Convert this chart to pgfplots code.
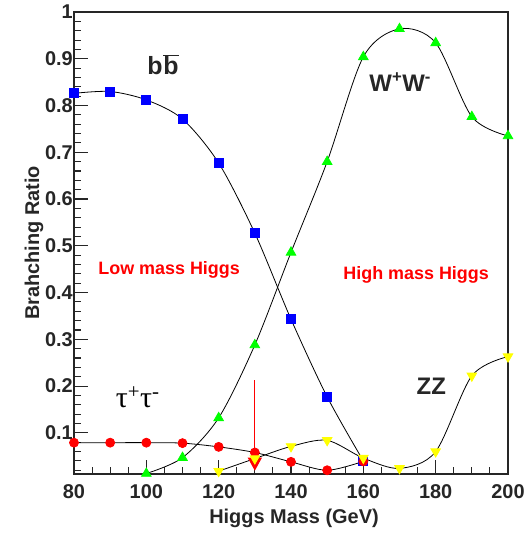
\documentclass[border=0pt]{standalone}
\usepackage{fontspec}
\setmainfont{Liberation Sans}
\newfontfamily\grserif{Liberation Serif}
\usepackage{pgfplots}
\pgfplotsset{compat=1.18}
\usetikzlibrary{arrows.meta}
\definecolor{rblue}{RGB}{0,0,255}
\definecolor{rgreen}{RGB}{0,255,0}
\definecolor{ryellow}{RGB}{255,255,0}
\definecolor{rred}{RGB}{255,0,0}
\begin{document}
\begin{tikzpicture}
\useasboundingbox (-74bp,-60bp) rectangle (457bp,474bp);
\begin{axis}[
  at={(0,0)}, anchor=south west,
  scale only axis, width=434bp, height=462bp,
  xmin=80, xmax=200, ymin=0.012, ymax=1,
  clip=false,
  axis line style={line width=1.2bp, black!85},
  every tick/.style={line width=1.1bp, black!85},
  tick align=inside,
  xtick pos=bottom, ytick pos=left,
  xtick={80,100,...,200},
  minor xtick={80,85,...,200},
  ytick={0.1,0.2,0.3,0.4,0.5,0.6,0.7,0.8,0.9,1},
  minor ytick={0.02,0.04,0.06,0.08,0.12,0.14,0.16,0.18,0.22,0.24,0.26,0.28,0.32,0.34,0.36,0.38,0.42,0.44,0.46,0.48,0.52,0.54,0.56,0.58,0.62,0.64,0.66,0.68,0.72,0.74,0.76,0.78,0.82,0.84,0.86,0.88,0.92,0.94,0.96,0.98},
  major tick length=14bp, minor tick length=7bp,
  /pgf/number format/assume math mode=true,
  ticklabel style={font=\fontsize{20}{23}\selectfont\bfseries, text=black!85},
  yticklabel style={inner xsep=1bp},
  xticklabel style={yshift=-7bp},
  xlabel={Higgs Mass (GeV)},
  ylabel={Brahching Ratio},
  label style={font=\fontsize{20}{24}\selectfont\bfseries, text=black!85},
  xlabel style={at={(axis description cs:0.5,0)}, anchor=center, yshift=-44bp, xshift=3bp},
  ylabel style={at={(axis description cs:0,0.5)}, anchor=center, yshift=40bp},
]
% b bbar
\addplot[black, line width=0.8bp, smooth, mark=square*, mark size=4.5bp,
  mark options={fill=rblue, draw=rblue}]
  coordinates {(80,0.826)(90,0.830)(100,0.812)(110,0.771)(120,0.677)(130,0.527)(140,0.343)(150,0.177)(160,0.040)};
% W+W-
\addplot[black, line width=0.8bp, smooth, mark=triangle*, mark size=5.5bp,
  mark options={fill=rgreen, draw=rgreen}]
  coordinates {(100,0.013)(110,0.047)(120,0.132)(130,0.288)(140,0.486)(150,0.680)(160,0.904)(170,0.964)(180,0.934)(190,0.776)(200,0.735)};
% tau tau
\addplot[black, line width=0.8bp, smooth, mark=*, mark size=4.5bp,
  mark options={fill=rred, draw=rred}]
  coordinates {(80,0.079)(90,0.079)(100,0.079)(110,0.078)(120,0.070)(130,0.058)(140,0.038)(150,0.020)(160,0.039)};
% ZZ
\addplot[black, line width=0.8bp, smooth, mark=triangle*, mark size=5.5bp,
  mark options={fill=ryellow, draw=ryellow, rotate=180}]
  coordinates {(120,0.018)(130,0.045)(140,0.071)(150,0.084)(160,0.046)(170,0.024)(180,0.060)(190,0.222)(200,0.263)};
% red arrow
\addplot[rred, line width=1bp, -{Triangle[width=14bp,length=13bp]}, mark=none]
  coordinates {(130,0.212)(130,0.019)};
% labels
\node[font=\fontsize{25}{28}\selectfont\bfseries, text=black!85] at (axis cs:104.6,0.887) {b\kern1bp$\overline{\mbox{b}}$};
\node[font=\fontsize{24}{28}\selectfont\bfseries, text=black!85] at (axis cs:170.2,0.85) {W\textsuperscript{+}W\textsuperscript{-}};
\node[font=\fontsize{24}{28}\selectfont\bfseries, text=black!85] at (axis cs:178.8,0.199) {ZZ};
\node[font=\grserif\fontsize{30}{32}\selectfont, text=black] at (axis cs:97.6,0.176) {τ\textsuperscript{+}τ\textsuperscript{-}};
\node[font=\fontsize{18}{21}\selectfont\bfseries, text=rred] at (axis cs:106.3,0.449) {Low mass Higgs};
\node[font=\fontsize{18}{21}\selectfont\bfseries, text=rred] at (axis cs:174.6,0.438) {High mass Higgs};
\end{axis}
\end{tikzpicture}
\end{document}
